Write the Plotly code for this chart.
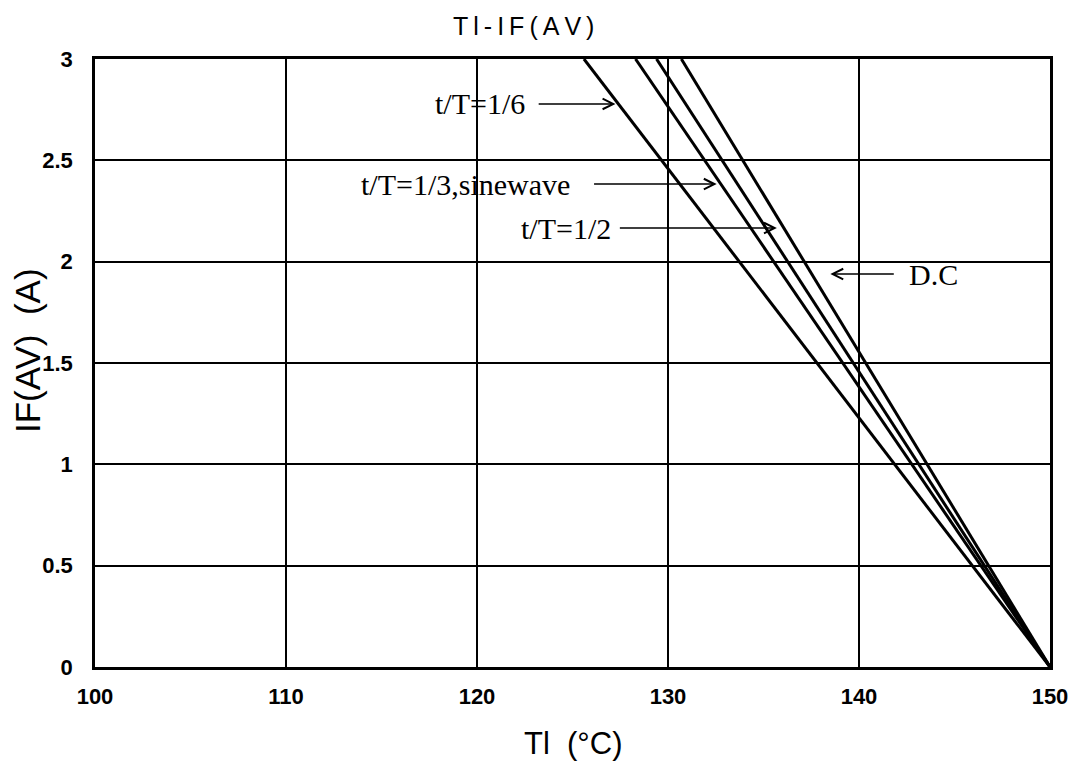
import plotly.graph_objects as go

# Data: straight derating lines from top intercept (y=3) to (150, 0)
series_names = ["t/T=1/6", "t/T=1/3,sinewave", "t/T=1/2", "D.C"]
x_top = [125.6, 128.3, 129.4, 130.7]
y_top = [3.0, 3.0, 3.0, 3.0]
x_end = [150, 150, 150, 150]
y_end = [0, 0, 0, 0]

x_ticks = [100, 110, 120, 130, 140, 150]
y_ticks = [0, 0.5, 1, 1.5, 2, 2.5, 3]
y_tick_text = ["0", "0.5", "1", "1.5", "2", "2.5", "3"]

# label annotations
labels = ["t/T=1/6", "t/T=1/3,sinewave", "t/T=1/2", "D.C"]
label_x = [122.6, 124.95, 127.1, 142.5]
label_y = [2.778, 2.383, 2.166, 1.939]
arrow_tail_x = [123.15, 126.05, 127.4, 141.9]
arrow_head_x = [127.25, 132.55, 135.7, 138.5]
label_anchor = ["right", "right", "right", "left"]

fig = go.Figure()
for i, name in enumerate(series_names):
    fig.add_trace(go.Scatter(
        x=[x_top[i], x_end[i]], y=[y_top[i], y_end[i]],
        mode="lines", name=name,
        line=dict(color="black", width=3),
        showlegend=False, hoverinfo="skip"))

sans = "Liberation Sans, Arial, sans-serif"
annotations = []
serif = dict(family="Liberation Serif, Times New Roman, serif", size=30, color="black")
for i, t in enumerate(labels):
    annotations.append(dict(
        x=label_x[i], y=label_y[i], xref="x", yref="y", text=t,
        showarrow=False, xanchor=label_anchor[i], yanchor="middle", font=serif))
    annotations.append(dict(
        x=arrow_head_x[i], y=label_y[i], ax=arrow_tail_x[i], ay=label_y[i],
        xref="x", yref="y", axref="x", ayref="y", text="",
        showarrow=True, arrowhead=5, arrowsize=1.3, arrowwidth=1.6, arrowcolor="black"))

annotations.append(dict(
    x=0.449, y=1.0, xref="paper", yref="paper", yshift=33,
    text="\u2009".join(list("Tl-IF(AV)")),
    showarrow=False, xanchor="center", yanchor="middle",
    font=dict(family=sans, size=25, color="black")))
annotations.append(dict(
    x=-0.07, y=0.52, xref="paper", yref="paper", text="IF(AV)  (A)",
    textangle=-90, showarrow=False, xanchor="center", yanchor="middle",
    font=dict(family=sans, size=35, color="black")))
annotations.append(dict(
    x=0.5, y=-0.125, xref="paper", yref="paper", text="Tl  (°C)",
    showarrow=False, xanchor="center", yanchor="middle",
    font=dict(family=sans, size=31, color="black")))

fig.update_layout(
    width=1083, height=764,
    margin=dict(l=87, r=41, t=51, b=105),
    paper_bgcolor="white", plot_bgcolor="white",
    annotations=annotations,
    xaxis=dict(
        range=[100, 150], tickvals=x_ticks, ticktext=[str(v) for v in x_ticks],
        showgrid=True, gridcolor="black", gridwidth=2,
        showline=True, linecolor="black", linewidth=2.5, mirror=True,
        zeroline=False, ticks="", ticklabelstandoff=8,
        tickfont=dict(family=sans, size=22, color="black", weight="bold")),
    yaxis=dict(
        range=[0, 3], tickvals=y_ticks, ticktext=y_tick_text,
        showgrid=True, gridcolor="black", gridwidth=2,
        showline=True, linecolor="black", linewidth=2.5, mirror=True,
        zeroline=False, ticks="", ticklabelstandoff=15,
        tickfont=dict(family=sans, size=22, color="black", weight="bold")),
)

fig.write_html("out.html")
